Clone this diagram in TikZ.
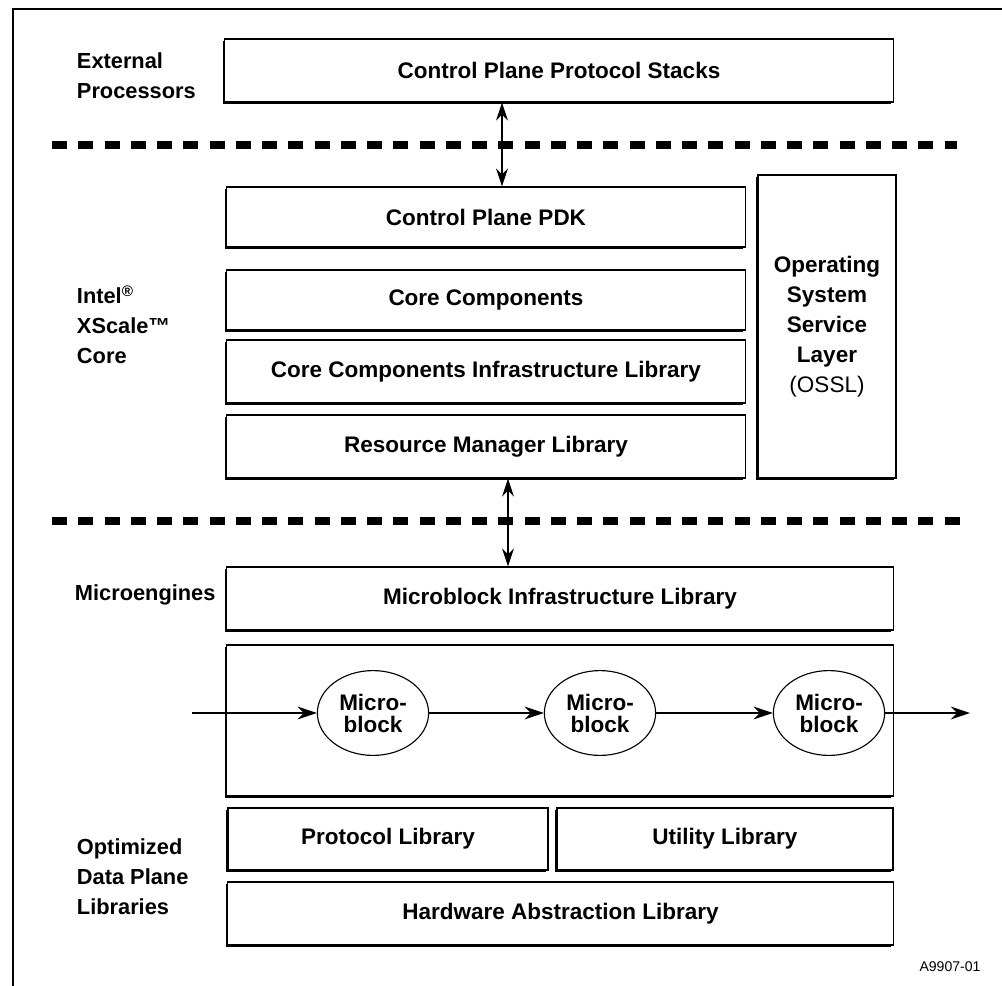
\documentclass[tikz,border=0pt]{standalone}
\usepackage{fontspec}
\setmainfont{Liberation Sans}
\usetikzlibrary{positioning, arrows.meta, shapes.geometric, shadows}

\begin{document}
\begin{tikzpicture}[
  x=0.025cm, y=-0.025cm,
  layer/.style={rectangle, draw, line width=0.8pt, fill=white, inner sep=0pt,
    align=center, font=\fontsize{16}{21.3}\selectfont\bfseries,
    general shadow={fill=black, shadow xshift=-1.2pt, shadow yshift=-1.2pt}},
  mblock/.style={ellipse, draw, line width=0.8pt, fill=white, inner sep=0pt,
    minimum width=2.78cm, minimum height=2.12cm, align=center,
    font=\fontsize{16}{15.6}\selectfont\bfseries},
  side/.style={anchor=west, align=left, font=\fontsize{15.5}{21.3}\selectfont\bfseries},
  link/.style={{Stealth[length=4.5mm, width=3mm]}-{Stealth[length=4.5mm, width=3mm]}, line width=0.8pt},
  flow/.style={-{Stealth[length=4.8mm, width=3.2mm]}, line width=0.8pt},
  divider/.style={line width=5.7pt, dash pattern=on 10.7pt off 7.97pt}
]
  \useasboundingbox (0,0) rectangle (1002,986);

  % Frame and tier dividers
  \draw[line width=1.1pt] (13,986) -- (13,9) -- (1002,9);
  \draw[divider] (52,145) -- (957,145);
  \draw[divider] (52,521) -- (963,521);

  % Tier labels
  \node[side] (ext) at (72,76) {External\\Processors};
  \node[side] (xscale) at (72,325) {Intel\textsuperscript{\textregistered}\\XScale\texttrademark\\Core};
  \node[side] (me) at (70,595) {Microengines};
  \node[side] (dpl) at (72,877) {Optimized\\Data Plane\\Libraries};

  % Layers
  \node[layer, minimum width=16.7cm, minimum height=1.575cm] (stacks) at (559,70.5) {Control Plane Protocol Stacks};
  \node[layer, minimum width=12.95cm, minimum height=1.5cm] (pdk) at (486,217) {Control Plane PDK};
  \node[layer, minimum width=12.95cm, minimum height=1.5cm] (core) at (486,300) {Core Components};
  \node[layer, minimum width=12.95cm, minimum height=1.575cm] (ccil) at (486,371.5) {Core Components Infrastructure Library};
  \node[layer, minimum width=12.95cm, minimum height=1.575cm] (rm) at (486,446.5) {Resource Manager Library};
  \node[layer, minimum width=3.45cm, minimum height=7.575cm] (ossl) at (827,326.5) {Operating\\System\\Service\\Layer\\{\mdseries(OSSL)}};
  \node[layer, minimum width=16.65cm, minimum height=1.575cm] (mil) at (560,598.5) {Microblock Infrastructure Library};
  \node[layer, minimum width=16.65cm, minimum height=3.775cm] (pipe) at (560,720.5) {};
  \node[layer, minimum width=8cm, minimum height=1.55cm] (proto) at (388,839) {Protocol Library};
  \node[layer, minimum width=8.4cm, minimum height=1.55cm] (util) at (725,839) {Utility Library};
  \node[layer, minimum width=16.625cm, minimum height=1.575cm] (hal) at (560.5,913.5) {Hardware Abstraction Library};

  % Microblocks
  \node[mblock] (mb1) at (373,713) {Micro-\\block};
  \node[mblock] (mb2) at (600,713) {Micro-\\block};
  \node[mblock] (mb3) at (829,713) {Micro-\\block};
  \coordinate (in) at (192,713);
  \coordinate (out) at (970,713);

  % Arrows
  \coordinate (up) at (502,0);
  \coordinate (down) at (508,0);
  \draw[link] (up |- stacks.south) -- (up |- pdk.north);
  \draw[link] (down |- rm.south) -- (down |- mil.north);
  \draw[flow] (in) -- (mb1);
  \draw[flow] (mb1) -- (mb2);
  \draw[flow] (mb2) -- (mb3);
  \draw[flow] (mb3) -- (out);

  % Figure number
  \node[font=\fontsize{10}{12}\selectfont] (fig) at (950,967) {A9907-01};
\end{tikzpicture}
\end{document}
